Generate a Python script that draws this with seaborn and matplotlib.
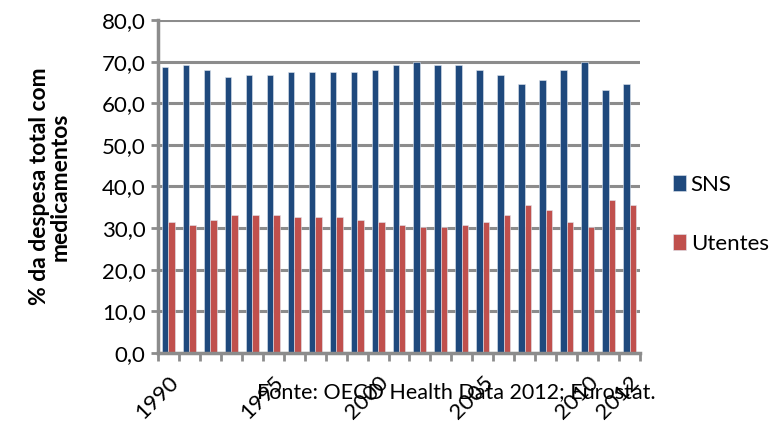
import seaborn as sns
import pandas as pd
import numpy as np
import matplotlib.pyplot as plt
from matplotlib.ticker import FuncFormatter

years = list(range(1990, 2013))
sns_values = [68.6, 69.2, 68.0, 66.3, 66.8, 66.8, 67.5, 67.5, 67.5, 67.5, 68.0,
              69.2, 69.8, 69.2, 69.2, 68.0, 66.8, 64.6, 65.6, 68.0, 69.8, 63.3, 64.6]
utentes_values = [31.4, 30.8, 32.0, 33.2, 33.2, 33.2, 32.6, 32.6, 32.6, 32.0, 31.4,
                  30.8, 30.3, 30.3, 30.8, 31.4, 33.2, 35.6, 34.4, 31.4, 30.3, 36.8, 35.6]
shown_years = [1990, 1995, 2000, 2005, 2010, 2012]

df = pd.DataFrame({
	'ano': [str(y) for y in years] * 2,
	'valor': sns_values + utentes_values,
	'serie': ['SNS'] * len(years) + ['Utentes'] * len(years),
})

sns.set_style('white')
plt.rcParams['font.family'] = ['Lato', 'DejaVu Sans']
plt.rcParams['text.color'] = 'black'
plt.rcParams['axes.labelcolor'] = 'black'
plt.rcParams['xtick.labelcolor'] = 'black'
plt.rcParams['ytick.labelcolor'] = 'black'

fig = plt.figure(figsize=(7.78, 4.26), dpi=100)
ax = fig.add_axes([158/778, 1-353/426, (640-158)/778, (353-20)/426])

grid_col = '#8c8c8c'
ax.set_axisbelow(True)
ax.yaxis.grid(True, color=grid_col, linewidth=2.2)

sns.barplot(data=df, x='ano', y='valor', hue='serie', ax=ax,
	palette=['#1f497d', '#c0504d'], width=0.62, gap=0,
	edgecolor='#dfe6ef', linewidth=0.4, saturation=1)

ax.set_ylim(0, 80)
ax.set_xlim(-0.5, len(years) - 0.5)
ax.set_yticks(np.arange(0, 81, 10))
ax.yaxis.set_major_formatter(FuncFormatter(lambda v, p: ('%.1f' % v).replace('.', ',')))
ax.tick_params(axis='y', labelsize=16, length=5, width=2, color=grid_col, direction='out', left=True, pad=4)

pos = [years.index(y) for y in shown_years]
ax.set_xticks(pos)
ax.set_xticklabels([str(y) for y in shown_years], rotation=45, ha='right', rotation_mode='anchor', fontsize=16)
ax.tick_params(axis='x', length=0, pad=14)
ax.set_xticks(np.arange(-0.5, len(years), 1), minor=True)
ax.tick_params(axis='x', which='minor', length=6, width=2, color=grid_col, direction='out', bottom=True)

for s in ['top', 'right']:
	ax.spines[s].set_visible(False)
for s in ['left', 'bottom']:
	ax.spines[s].set_color(grid_col)
	ax.spines[s].set_linewidth(2.5)

ax.set_xlabel('')
ax.set_ylabel('% da despesa total com\nmedicamentos', fontsize=16.5, fontweight='bold', labelpad=22, linespacing=1.0)

handles, labels = ax.get_legend_handles_labels()
ax.legend(handles, labels, loc='center left', bbox_to_anchor=(653/778, 0.497),
	bbox_transform=fig.transFigure, frameon=False, fontsize=16,
	handlelength=0.6, handleheight=0.75, handletextpad=0.2, labelspacing=1.75)

fig.text(257/778, 1-392/426, 'Fonte: OECD Health Data 2012; Eurostat.', fontsize=15.5, va='center')

plt.savefig('out.png', dpi=100)
